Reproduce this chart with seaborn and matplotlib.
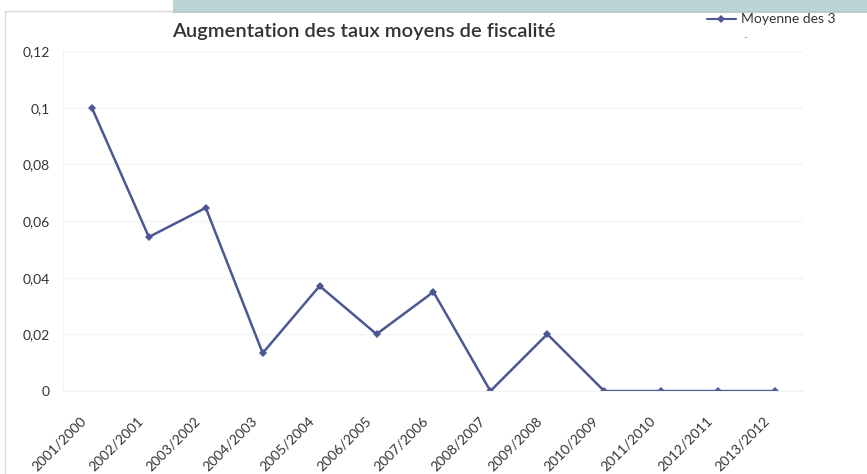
import matplotlib
matplotlib.use("Agg")
import matplotlib.pyplot as plt
import matplotlib.patches as mpatches
import matplotlib.lines as mlines
import matplotlib.transforms as mtransforms
import pandas as pd
import seaborn as sns

periods = ['2001/2000', '2002/2001', '2003/2002', '2004/2003', '2005/2004',
           '2006/2005', '2007/2006', '2008/2007', '2009/2008', '2010/2009',
           '2011/2010', '2012/2011', '2013/2012']
moyenne = [0.1, 0.0544, 0.0647, 0.0134, 0.0371, 0.0201, 0.035,
           0.0, 0.0201, 0.0, 0.0, 0.0, 0.0]
y_ticks = [0, 0.02, 0.04, 0.06, 0.08, 0.1, 0.12]
y_labels = ['0', '0,02', '0,04', '0,06', '0,08', '0,1', '0,12']

LINE_COL = '#4c5794'
TXT_COL = '#333333'

sns.set_style("white")
plt.rcParams['font.family'] = ['Lato', 'DejaVu Sans']

df = pd.DataFrame({'periode': periods, 'moyenne': moyenne})

fig = plt.figure(figsize=(8.67, 4.74), dpi=100)
ax = fig.add_axes([0.0732, 0.175, 0.8535, 0.717])

sns.lineplot(data=df, x='periode', y='moyenne', ax=ax, color=LINE_COL,
             linewidth=1.8, marker='D', markersize=4, markeredgewidth=0,
             sort=False)

ax.set_xlim(-0.5, len(periods) - 0.5)
ax.set_ylim(0, 0.12)
ax.set_yticks(y_ticks)
ax.set_yticklabels(y_labels, fontsize=10, color=TXT_COL)
ax.set_xticks(range(len(periods)))
ax.set_xticklabels(periods, rotation=45, ha='right', rotation_mode='anchor',
                   fontsize=10, color=TXT_COL)
ax.tick_params(axis='y', length=0, pad=10)
ax.tick_params(axis='x', length=0, pad=17)
shift = mtransforms.ScaledTranslation(-0.12, 0, fig.dpi_scale_trans)
for lab in ax.get_xticklabels():
    lab.set_transform(lab.get_transform() + shift)
ax.set_xlabel('')
ax.set_ylabel('')
ax.grid(axis='y', color='#f4f4f4', linewidth=1)
for s in ['top', 'right']:
    ax.spines[s].set_visible(False)
for s in ['left', 'bottom']:
    ax.spines[s].set_color('#f2f2f2')

# titre et légende
fig.text(364 / 867, 1 - 31 / 474, 'Augmentation des taux moyens de fiscalité',
         ha='center', va='center', fontsize=14.5, fontweight='semibold', color=TXT_COL)
leg_y = 1 - 19 / 474
fig.add_artist(mlines.Line2D([707 / 867, 736 / 867], [leg_y, leg_y],
                             transform=fig.transFigure, color=LINE_COL, linewidth=1.5))
fig.add_artist(mlines.Line2D([721 / 867], [leg_y], transform=fig.transFigure,
                             color=LINE_COL, marker='D', markersize=4, markeredgewidth=0))
fig.text(741 / 867, leg_y, 'Moyenne des 3', ha='left', va='center',
         fontsize=10, color=TXT_COL)
fig.text(743 / 867, 1 - 38 / 474, '-', ha='left', va='center', fontsize=7, color='#888888')

# bandeau et cadre de la diapositive
fig.add_artist(mpatches.Rectangle((173 / 867, 1 - 11 / 474), 694 / 867, 11 / 474,
                                  transform=fig.transFigure, facecolor='#bcd4d3',
                                  edgecolor='none'))
fig.add_artist(mlines.Line2D([173 / 867, 1], [1 - 12 / 474, 1 - 12 / 474],
                             transform=fig.transFigure, color='#a9c1c0', linewidth=1.2))
fig.add_artist(mlines.Line2D([5 / 867, 173 / 867], [1 - 11 / 474, 1 - 11 / 474],
                             transform=fig.transFigure, color='#d8d8d8', linewidth=1))
fig.add_artist(mlines.Line2D([5 / 867, 5 / 867], [0, 1 - 11 / 474],
                             transform=fig.transFigure, color='#d8d8d8', linewidth=1))

fig.savefig('out.png', dpi=100)
